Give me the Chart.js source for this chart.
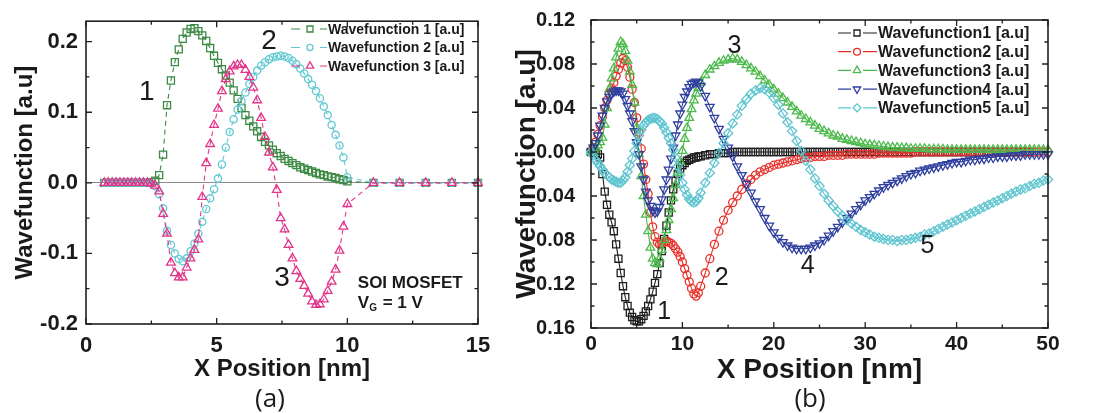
<!DOCTYPE html>
<html>
<head>
<meta charset="utf-8">
<script src="https://cdn.jsdelivr.net/npm/chart.js@4.4.0/dist/chart.umd.min.js"></script>
<style>
  body { margin: 0; background: #fff; width: 1098px; height: 413px; overflow: hidden; position: relative; }
  .panel { position: absolute; top: 0; height: 413px; }
  #wrapA { left: 0; width: 500px; }
  #wrapB { left: 500px; width: 598px; }
</style>
</head>
<body>
<div class="panel" id="wrapA"><canvas id="chartA"></canvas></div>
<div class="panel" id="wrapB"><canvas id="chartB"></canvas></div>
<script>
// Panel (a): SOI MOSFET, x in nm
const xA = [0.70,0.85,1.00,1.15,1.30,1.45,1.60,1.75,1.90,2.05,2.20,2.35,2.50,2.65,2.80,2.95,3.10,3.25,3.40,3.55,
  3.70,3.85,4.00,4.15,4.30,4.45,4.60,4.75,4.90,5.05,5.20,5.35,5.50,5.65,5.80,5.95,6.10,6.25,6.40,6.55,
  6.70,6.85,7.00,7.15,7.30,7.45,7.60,7.75,7.90,8.05,8.20,8.35,8.50,8.65,8.80,8.95,9.10,9.25,9.40,9.55,
  9.70,9.85,10.00,11,12,13,14,15];
const wfA1 = [0,0,0,0,0,0,0,0,0,0,0,0,0.001,0.003,0.011,0.040,0.110,0.145,0.171,0.189,
  0.204,0.213,0.218,0.219,0.215,0.209,0.201,0.191,0.180,0.170,0.161,0.152,0.142,0.131,0.119,0.106,0.096,0.088,0.080,0.073,
  0.065,0.058,0.053,0.047,0.042,0.038,0.034,0.031,0.028,0.025,0.022,0.020,0.018,0.016,0.014,0.012,0.011,0.009,0.008,0.007,
  0.005,0.004,0.002,0,0,0,0,0];
const wfA2 = [0,0,0,0,0,0,0,0,0,0,0,0,-0.001,-0.005,-0.016,-0.036,-0.068,-0.088,-0.100,-0.108,
  -0.111,-0.107,-0.097,-0.086,-0.072,-0.055,-0.037,-0.022,-0.009,0.006,0.026,0.050,0.072,0.090,0.104,0.116,0.128,0.140,0.150,0.159,
  0.166,0.171,0.175,0.178,0.179,0.180,0.179,0.177,0.173,0.168,0.162,0.155,0.147,0.139,0.130,0.120,0.108,0.096,0.082,0.068,
  0.053,0.036,0.008,0,0,0,0,0];
const wfA3 = [0,0,0,0,0,0,0,0,0,0,0,0,-0.001,-0.004,-0.012,-0.044,-0.072,-0.113,-0.128,-0.134,
  -0.134,-0.120,-0.107,-0.095,-0.080,-0.020,0.028,0.055,0.082,0.105,0.130,0.147,0.158,0.165,0.167,0.167,0.160,0.150,0.135,0.117,
  0.092,0.065,0.043,0.022,-0.010,-0.050,-0.066,-0.088,-0.107,-0.125,-0.136,-0.146,-0.157,-0.168,-0.173,-0.172,-0.165,-0.153,-0.140,-0.123,
  -0.096,-0.062,-0.030,0,0,0,0,0];

// Panel (b): x in nm
const xB = [0,0.25,0.5,0.75,1,1.25,1.5,1.75,2,2.25,2.5,2.75,3,3.25,3.5,3.75,4,4.25,4.5,4.75,
  5,5.25,5.5,5.75,6,6.25,6.5,6.75,7,7.25,7.5,7.75,8,8.25,8.5,8.75,9,9.25,9.5,9.75,
  10,10.25,10.5,10.75,11,11.25,11.5,11.75,12,
  12.5,13,13.5,14,14.5,15,15.5,16,16.5,17,17.5,18,18.5,19,19.5,20,20.5,21,21.5,22,
  22.5,23,23.5,24,24.5,25,25.5,26,26.5,27,27.5,28,28.5,29,29.5,30,30.5,31,31.5,32,
  32.5,33,33.5,34,34.5,35,35.5,36,36.5,37,37.5,38,38.5,39,39.5,40,40.5,41,41.5,42,
  42.5,43,43.5,44,44.5,45,45.5,46,46.5,47,47.5,48,48.5,49,49.5,50];
const wfB1 = [0,0,-0.001,-0.002,-0.005,-0.020,-0.036,-0.048,-0.057,-0.064,-0.072,-0.084,-0.097,-0.110,-0.122,-0.132,-0.140,-0.146,-0.150,-0.153,
  -0.154,-0.154,-0.152,-0.149,-0.145,-0.140,-0.134,-0.127,-0.119,-0.111,-0.101,-0.090,-0.079,-0.067,-0.055,-0.044,-0.034,-0.026,-0.020,-0.015,
  -0.012,-0.010,-0.008,-0.007,-0.006,-0.005,-0.005,-0.004,-0.004,
  -0.003,-0.002,-0.002,-0.001,-0.001,-0.001,0,0,0,0,
  0,0,0,0,0,0,0,0,0,0, 0,0,0,0,0,0,0,0,0,0, 0,0,0,0,0,0,0,0,0,0,
  0,0,0,0,0,0,0,0,0,0, 0,0,0,0,0,0,0,0,0,0, 0,0,0,0,0,0,0,0,0,0, 0,0];
const wfB2 = [0,0.004,0.009,0.016,0.024,0.032,0.040,0.047,0.053,0.058,0.063,0.069,0.075,0.081,0.085,0.083,0.077,0.068,0.057,0.045,
  0.031,0.018,0.003,-0.011,-0.025,-0.038,-0.055,-0.068,-0.077,-0.082,-0.084,-0.083,-0.082,-0.081,-0.082,-0.083,-0.085,-0.088,-0.091,-0.095,
  -0.100,-0.106,-0.112,-0.118,-0.124,-0.129,-0.131,-0.128,-0.122,
  -0.110,-0.097,-0.084,-0.072,-0.062,-0.053,-0.046,-0.040,-0.034,-0.029,
  -0.025,-0.021,-0.018,-0.016,-0.014,-0.012,-0.011,-0.010,-0.009,-0.008,
  -0.007,-0.006,-0.005,-0.005,-0.004,-0.004,-0.004,-0.003,-0.003,-0.003,
  -0.003,-0.002,-0.002,-0.002,-0.002,-0.002,-0.002,-0.002,-0.001,-0.001,
  -0.001,-0.001,-0.001,-0.001,-0.001,-0.001,
  0,0,0,0,0,0,0,0,0,0, 0,0,0,0,0,0,0,0,0,0, 0,0,0,0,0,0,0,0,0,0];
const wfB3 = [0,0.002,0.004,0.006,0.009,0.013,0.025,0.040,0.057,0.067,0.076,0.086,0.094,0.100,0.098,0.092,0.083,0.073,0.061,0.045,
  0.022,-0.002,-0.022,-0.040,-0.057,-0.072,-0.087,-0.097,-0.101,-0.102,-0.097,-0.089,-0.080,-0.071,-0.062,-0.052,-0.042,-0.030,-0.019,-0.009,
  0.001,0.012,0.022,0.031,0.039,0.047,0.053,0.058,0.063,
  0.070,0.075,0.078,0.081,0.083,0.084,0.085,0.084,0.082,0.079,
  0.076,0.073,0.069,0.065,0.061,0.057,0.053,0.049,0.045,0.041,
  0.037,0.033,0.030,0.027,0.024,0.021,0.019,0.017,0.015,0.014,
  0.012,0.011,0.010,0.009,0.008,0.007,0.0065,0.006,0.0055,0.005,
  0.0045,0.004,0.004,0.0035,0.0035,0.003,0.003,0.003,0.003,0.0025,
  0.0025,0.0025,0.0025,0.002,0.002,0.002,
  0.002,0.002,0.002,0.002,0.002,0.002,0.002,0.002,0.002,0.002,
  0.002,0.002,0.002,0.002,0.002,0.002,0.002,0.002,0.002,0.002];
const wfB4 = [0,0.004,0.008,0.015,0.024,0.033,0.040,0.046,0.050,0.053,0.055,0.056,0.056,0.055,0.053,0.048,0.042,0.035,0.028,0.019,
  0.009,-0.002,-0.013,-0.025,-0.036,-0.044,-0.049,-0.053,-0.055,-0.054,-0.050,-0.043,-0.034,-0.025,-0.016,-0.006,0.004,0.015,0.025,0.035,
  0.043,0.050,0.055,0.059,0.062,0.063,0.064,0.063,0.060,
  0.051,0.041,0.031,0.021,0.012,0.004,-0.004,-0.013,-0.021,-0.029,
  -0.037,-0.045,-0.052,-0.060,-0.067,-0.073,-0.078,-0.082,-0.085,-0.087,
  -0.088,-0.088,-0.088,-0.087,-0.085,-0.083,-0.080,-0.076,-0.072,-0.068,
  -0.064,-0.060,-0.056,-0.052,-0.048,-0.044,-0.041,-0.038,-0.035,-0.032,
  -0.030,-0.028,-0.026,-0.024,-0.022,-0.020,-0.019,-0.017,-0.016,-0.015,
  -0.014,-0.013,-0.012,-0.011,-0.010,-0.009,-0.009,-0.008,-0.007,-0.007,
  -0.006,-0.006,-0.005,-0.005,-0.004,-0.004,-0.004,-0.003,-0.003,-0.003,
  -0.002,-0.002,-0.002,-0.002,-0.002,-0.002];
const wfB5 = [0,-0.003,-0.007,-0.010,-0.013,-0.016,-0.019,-0.021,-0.023,-0.025,-0.026,-0.027,-0.028,-0.028,-0.026,-0.023,-0.018,-0.012,-0.006,0.001,
  0.008,0.015,0.020,0.024,0.027,0.029,0.030,0.031,0.031,0.030,0.028,0.026,0.022,0.018,0.013,0.008,0.002,-0.005,-0.013,-0.021,
  -0.028,-0.034,-0.039,-0.043,-0.045,-0.046,-0.045,-0.042,-0.037,
  -0.028,-0.019,-0.010,-0.001,0.008,0.017,0.026,0.034,0.042,0.048,
  0.053,0.056,0.058,0.057,0.054,0.049,0.043,0.035,0.027,0.019,
  0.010,0.001,-0.008,-0.016,-0.024,-0.031,-0.038,-0.044,-0.049,-0.054,
  -0.058,-0.062,-0.065,-0.068,-0.071,-0.073,-0.075,-0.077,-0.078,-0.079,
  -0.080,-0.080,-0.081,-0.080,-0.080,-0.079,-0.078,-0.077,-0.075,-0.074,
  -0.072,-0.070,-0.068,-0.066,-0.064,-0.062,-0.060,-0.058,-0.056,-0.054,
  -0.052,-0.050,-0.048,-0.046,-0.044,-0.042,-0.040,-0.038,-0.036,-0.034,
  -0.033,-0.031,-0.029,-0.028,-0.026,-0.025];

const FONT = "'Liberation Sans', Arial, sans-serif";
const INK = '#1a1a1a';
const NONE = 'rgba(0,0,0,0)';

function pts(xs, ys) {
  return xs.map((x, i) => ({ x: x, y: ys[i] }));
}

// box with inward major + minor ticks on all four sides
const framePlugin = {
  id: 'frame',
  afterDatasetsDraw(chart) {
    const ctx = chart.ctx, a = chart.chartArea;
    const xs = chart.scales.x, ys = chart.scales.y;
    ctx.save();
    ctx.strokeStyle = '#202020';
    ctx.lineWidth = 1.6;
    ctx.strokeRect(a.left, a.top, a.right - a.left, a.bottom - a.top);
    ctx.lineWidth = 1.3;
    ctx.beginPath();
    const mark = (scale, v, len) => {
      const p = scale.getPixelForValue(v);
      if (scale.axis === 'x') {
        if (p < a.left - 0.5 || p > a.right + 0.5) return;
        ctx.moveTo(p, a.bottom); ctx.lineTo(p, a.bottom - len);
        ctx.moveTo(p, a.top); ctx.lineTo(p, a.top + len);
      } else {
        if (p < a.top - 0.5 || p > a.bottom + 0.5) return;
        ctx.moveTo(a.left, p); ctx.lineTo(a.left + len, p);
        ctx.moveTo(a.right, p); ctx.lineTo(a.right - len, p);
      }
    };
    [xs, ys].forEach(scale => {
      const t = scale.ticks;
      t.forEach((tk, i) => {
        mark(scale, tk.value, 6);
        if (i < t.length - 1) mark(scale, (tk.value + t[i + 1].value) / 2, 3.5);
      });
      if (t.length > 1) {
        const step = t[1].value - t[0].value;
        mark(scale, t[t.length - 1].value + step / 2, 3.5);
      }
    });
    ctx.stroke();
    ctx.restore();
  }
};

// free text placed in data units (or pixels)
const notesPlugin = {
  id: 'notes',
  afterDraw(chart, args, opts) {
    const ctx = chart.ctx, xs = chart.scales.x, ys = chart.scales.y;
    ctx.save();
    ctx.fillStyle = INK;
    ctx.textBaseline = 'middle';
    (opts.items || []).forEach(n => {
      const px = n.px != null ? n.px : xs.getPixelForValue(n.x);
      const py = n.py != null ? n.py : ys.getPixelForValue(n.y);
      ctx.font = n.font;
      if (n.mask) {
        // the original panel was cut at its left edge, hiding the minus signs
        ctx.fillStyle = '#fff';
        ctx.fillRect(n.mask[0], n.mask[1], n.mask[2], n.mask[3]);
        ctx.fillStyle = INK;
      }
      if (n.rot) {
        ctx.save();
        ctx.translate(px, py);
        ctx.rotate(n.rot);
        ctx.textAlign = 'center';
        ctx.fillText(n.text, 0, 0);
        ctx.restore();
      } else if (n.sub) {
        ctx.textAlign = 'left';
        ctx.fillText(n.text, px, py);
        const w = ctx.measureText(n.text).width;
        ctx.font = n.subFont;
        ctx.fillText(n.sub, px + w, py + 5);
        const w2 = ctx.measureText(n.sub).width;
        ctx.font = n.font;
        ctx.fillText(n.rest, px + w + w2 + 1, py);
      } else {
        ctx.textAlign = n.align || 'center';
        ctx.fillText(n.text, px, py);
      }
    });
    ctx.restore();
  }
};

// legend drawn as  -o- label  like the original plots
const keyPlugin = {
  id: 'key',
  afterDraw(chart, args, opts) {
    const ctx = chart.ctx;
    ctx.save();
    chart.data.datasets.forEach((ds, i) => {
      const y = opts.top + i * opts.gap;
      ctx.strokeStyle = ds.borderColor;
      ctx.lineWidth = 1.2;
      ctx.beginPath();
      ctx.moveTo(opts.x0, y); ctx.lineTo(opts.mx - opts.mgap, y);
      ctx.moveTo(opts.mx + opts.mgap, y); ctx.lineTo(opts.x1, y);
      ctx.stroke();
      ctx.fillStyle = NONE;
      ctx.lineWidth = ds.pointBorderWidth;
      Chart.helpers.drawPoint(ctx, {
        pointStyle: ds.pointStyle, rotation: ds.pointRotation || 0,
        radius: ds.pointRadius * 0.85, borderWidth: ds.pointBorderWidth
      }, opts.mx, y);
      ctx.fillStyle = INK;
      ctx.font = opts.font;
      ctx.textAlign = 'left';
      ctx.textBaseline = 'middle';
      ctx.fillText(ds.label, opts.x1 + 1, y + 1);
    });
    ctx.restore();
  }
};

function series(label, xs, ys, color, style, radius, extra) {
  return Object.assign({
    label: label,
    data: pts(xs, ys),
    showLine: true,
    borderColor: color,
    backgroundColor: NONE,
    borderWidth: 1.1,
    pointStyle: style,
    pointRadius: radius,
    pointHoverRadius: radius,
    pointBorderColor: color,
    pointBackgroundColor: NONE,
    pointBorderWidth: 1.3,
    clip: 10
  }, extra || {});
}

const dashA = { borderDash: [5, 4] };

new Chart(document.getElementById('chartA'), {
  type: 'scatter',
  data: {
    datasets: [
      series('Wavefunction 1 [a.u]', xA, wfA1, '#3d8a44', 'rect', 5, Object.assign({ order: 3 }, dashA)),
      series('Wavefunction 2 [a.u]', xA, wfA2, '#62c9d3', 'circle', 3.6, Object.assign({ order: 2 }, dashA)),
      series('Wavefunction 3 [a.u]', xA, wfA3, '#e2358a', 'triangle', 5, Object.assign({ order: 1 }, dashA))
    ]
  },
  options: {
    responsive: true,
    maintainAspectRatio: false,
    animation: false,
    devicePixelRatio: 1,
    layout: { padding: { left: 0, right: 22, top: 15, bottom: 0 } },
    plugins: {
      legend: { display: false },
      tooltip: { enabled: false },
      key: { top: 29, gap: 18.5, x0: 291, mx: 310, mgap: 10, x1: 327, font: 'bold 14px ' + FONT },
      notes: {
        items: [
          { text: '1', x: 2.33, y: 0.129, font: '28px ' + FONT },
          { text: '2', x: 7.0, y: 0.2, font: '28px ' + FONT },
          { text: '3', x: 7.5, y: -0.135, font: '28px ' + FONT },
          { text: 'SOI MOSFET', x: 10.4, y: -0.143, align: 'left', font: 'bold 17px ' + FONT },
          { text: 'V', sub: 'G', rest: ' = 1 V', x: 10.4, y: -0.170, font: 'bold 17px ' + FONT, subFont: 'bold 10px ' + FONT },
          { text: '(a)', px: 270, py: 400, font: '26px "Open Sans", ' + FONT }
        ]
      }
    },
    scales: {
      x: {
        type: 'linear', min: 0, max: 15,
        afterFit: s => { s.height = 89; },
        grid: { display: false },
        border: { display: false },
        ticks: { stepSize: 5, padding: 1, color: INK, font: { family: FONT, size: 22, weight: 'bold' } },
        title: { display: true, text: 'X Position [nm]', color: INK, font: { family: FONT, size: 24, weight: 'bold' }, padding: { top: 0, bottom: 29 } }
      },
      y: {
        type: 'linear', min: -0.2, max: 0.229,
        afterFit: s => { s.width = 86; },
        grid: {
          display: true, drawTicks: false, lineWidth: 1,
          color: c => (c.tick && Math.abs(c.tick.value) < 1e-9) ? '#8c8c8c' : NONE
        },
        border: { display: false },
        ticks: {
          stepSize: 0.1, includeBounds: false, padding: 8, color: INK,
          font: { family: FONT, size: 22, weight: 'bold' },
          callback: v => (Math.abs(v) < 1e-9 ? 0 : v).toFixed(1)
        },
        title: { display: true, text: 'Wavefunction [a.u]', color: INK, font: { family: FONT, size: 24, weight: 'bold' }, padding: { top: 11, bottom: 0 } }
      }
    }
  },
  plugins: [framePlugin, notesPlugin, keyPlugin]
});

new Chart(document.getElementById('chartB'), {
  type: 'scatter',
  data: {
    datasets: [
      series('Wavefunction1 [a.u]', xB, wfB1, '#1e1e1e', 'rect', 5, { order: 5 }),
      series('Wavefunction2 [a.u]', xB, wfB2, '#e8302a', 'circle', 4, { order: 4 }),
      series('Wavefunction3 [a.u]', xB, wfB3, '#4dba4d', 'triangle', 5, { order: 3 }),
      series('Wavefunction4 [a.u]', xB, wfB4, '#2f3f9e', 'triangle', 5, { order: 2, pointRotation: 180 }),
      series('Wavefunction5 [a.u]', xB, wfB5, '#5dc5d0', 'rectRot', 4.6, { order: 1 })
    ]
  },
  options: {
    responsive: true,
    maintainAspectRatio: false,
    animation: false,
    devicePixelRatio: 1,
    layout: { padding: { left: 0, right: 50, top: 20, bottom: 0 } },
    plugins: {
      legend: { display: false },
      tooltip: { enabled: false },
      key: { top: 33, gap: 18.7, x0: 338, mx: 357, mgap: 6, x1: 377, font: 'bold 16px ' + FONT },
      notes: {
        items: [
          { text: 'Wavefunction [a.u]', px: 27, py: 174, rot: -Math.PI / 2, mask: [10, 180, 26.5, 160], font: 'bold 28px ' + FONT },
          { text: '1', x: 8.0, y: -0.146, font: '25px ' + FONT },
          { text: '2', x: 14.3, y: -0.115, font: '25px ' + FONT },
          { text: '3', x: 15.7, y: 0.096, font: '25px ' + FONT },
          { text: '4', x: 23.7, y: -0.104, font: '25px ' + FONT },
          { text: '5', x: 36.8, y: -0.086, font: '25px ' + FONT },
          { text: '(b)', px: 310, py: 400, font: '26px "Open Sans", ' + FONT }
        ]
      }
    },
    scales: {
      x: {
        type: 'linear', min: 0, max: 50,
        afterFit: s => { s.height = 85; },
        grid: { display: false },
        border: { display: false },
        ticks: { stepSize: 10, padding: -4, color: INK, font: { family: FONT, size: 21, weight: 'bold' } },
        title: { display: true, text: 'X Position [nm]', color: INK, font: { family: FONT, size: 28, weight: 'bold' }, padding: { top: 0, bottom: 26 } }
      },
      y: {
        type: 'linear', min: -0.16, max: 0.12,
        afterFit: s => { s.width = 91; },
        grid: { display: false },
        border: { display: false },
        ticks: {
          stepSize: 0.04, includeBounds: false, padding: 8, color: INK,
          font: { family: FONT, size: 20, weight: 'bold' },
          callback: v => (Math.abs(v) < 1e-9 ? 0 : v).toFixed(2)
        }
      }
    }
  },
  plugins: [framePlugin, notesPlugin, keyPlugin]
});
</script>
</body>
</html>
